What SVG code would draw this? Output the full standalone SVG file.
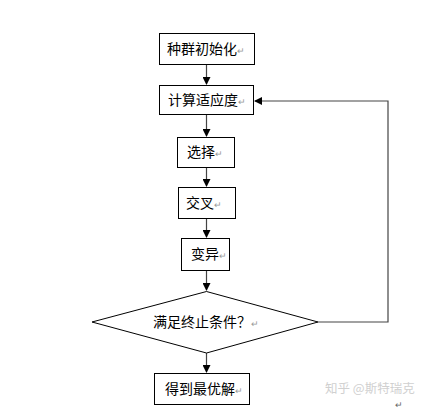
<svg xmlns="http://www.w3.org/2000/svg" width="434" height="409" viewBox="0 0 434 409">
<style>
.box{fill:#fff;stroke:#000;stroke-width:1}
.t{font-family:"Liberation Sans","Noto Sans CJK SC",sans-serif;font-size:14px;fill:#000}
.r{font-family:"Liberation Sans","Noto Sans CJK SC",sans-serif;font-size:9px;fill:#999}
.c{fill:none;stroke:#444;stroke-width:1.2}
.wm{font-family:"Noto Sans CJK SC",sans-serif;font-size:12.5px;fill:#d0d0d0}
</style>
<defs>
<marker id="ah" markerWidth="8" markerHeight="8" refX="7" refY="4" orient="auto" markerUnits="userSpaceOnUse">
<path d="M0,0 L8,4 L0,8 Z" fill="#000"/>
</marker>
</defs>
<rect width="434" height="409" fill="#fff"/>
<g id="connectors">
<line class="c" x1="206.5" y1="64" x2="206.5" y2="84" marker-end="url(#ah)"/>
<line class="c" x1="206.5" y1="114" x2="206.5" y2="136" marker-end="url(#ah)"/>
<line class="c" x1="206.5" y1="167" x2="206.5" y2="186" marker-end="url(#ah)"/>
<line class="c" x1="206.5" y1="218" x2="206.5" y2="237" marker-end="url(#ah)"/>
<line class="c" x1="206.5" y1="270" x2="206.5" y2="290" marker-end="url(#ah)"/>
<line class="c" x1="206.5" y1="353" x2="206.5" y2="372" marker-end="url(#ah)"/>
<polyline class="c" points="318,322 388,322 388,101 255,101" marker-end="url(#ah)"/>
</g>
<g id="n1">
<rect class="box" x="159.5" y="33.5" width="95" height="31"/>
<text class="t" x="167" y="54">种群初始化<tspan class="r">↵</tspan></text>
</g>
<g id="n2">
<rect class="box" x="159.5" y="85.5" width="94" height="29"/>
<text class="t" x="168" y="105">计算适应度<tspan class="r">↵</tspan></text>
</g>
<g id="n3">
<rect class="box" x="177.5" y="137.5" width="57" height="30"/>
<text class="t" x="187" y="157">选择<tspan class="r">↵</tspan></text>
</g>
<g id="n4">
<rect class="box" x="178.5" y="187.5" width="57" height="31"/>
<text class="t" x="186" y="208">交叉<tspan class="r">↵</tspan></text>
</g>
<g id="n5">
<rect class="box" x="181.5" y="238.5" width="48" height="32"/>
<text class="t" x="191" y="259">变异<tspan class="r">↵</tspan></text>
</g>
<g id="n6">
<polygon class="box" points="206.5,291.5 318,322 206.5,353 92,322"/>
<text class="t" x="153" y="327">满足终止条件？<tspan class="r">↵</tspan></text>
</g>
<g id="n7">
<rect class="box" x="154.5" y="373.5" width="95" height="31"/>
<text class="t" x="165" y="394">得到最优解<tspan class="r">↵</tspan></text>
</g>
<text class="wm" x="325" y="393">知乎 @斯特瑞克</text>
<text class="r" x="395" y="408" style="fill:#666">↵</text>
</svg>
